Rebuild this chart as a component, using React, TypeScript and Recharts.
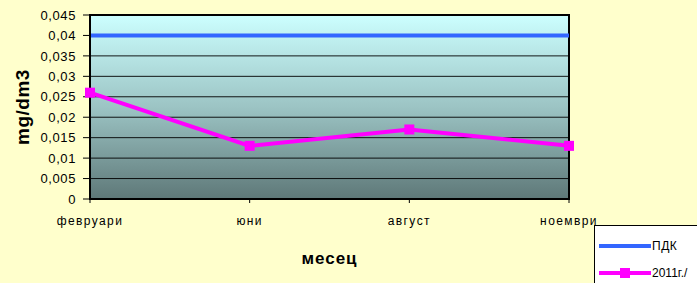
import {
  LineChart,
  Line,
  XAxis,
  YAxis,
  CartesianGrid,
  Legend,
  ReferenceArea,
} from 'recharts';

// months on the x axis
const months = ['февруари', 'юни', 'август', 'ноември'];
// ПДК limit line
const pdkValues = [0.04, 0.04, 0.04, 0.04];
// measured concentration 2011
const values2011 = [0.026, 0.013, 0.017, 0.013];
const yTicks = [0, 0.005, 0.01, 0.015, 0.02, 0.025, 0.03, 0.035, 0.04, 0.045];

const chartData = months.map((m, i) => ({
  month: m,
  pdk: pdkValues[i],
  y2011: values2011[i],
}));

const FONT = '"Liberation Sans", Arial, sans-serif';

const fmtTick = (v: number) => String(v).replace('.', ',');

const YLabel = ({ viewBox }: any) => {
  const cx = 22;
  const cy = viewBox.y + viewBox.height / 2;
  return (
    <text
      x={cx}
      y={cy}
      transform={`rotate(-90, ${cx}, ${cy})`}
      textAnchor="middle"
      dominantBaseline="central"
      fontFamily={FONT}
      fontWeight="bold"
      fontSize={19}
      letterSpacing={0.5}
      fill="#000"
    >
      mg/dm3
    </text>
  );
};

const XLabel = ({ viewBox }: any) => (
  <text
    x={viewBox.x + viewBox.width / 2}
    y={264}
    textAnchor="middle"
    fontFamily={FONT}
    fontWeight="bold"
    fontSize={17}
    letterSpacing={1}
    fill="#000"
  >
    месец
  </text>
);

const LegendBox = () => (
  <div
    style={{
      position: 'absolute',
      left: 594,
      top: 225,
      width: 140,
      height: 80,
      background: '#fff',
      border: '1px solid #000',
    }}
  >
    <svg width={140} height={80} style={{ position: 'absolute', left: 0, top: 0 }}>
      <line x1={4} x2={56} y1={20} y2={20} stroke="#3366FF" strokeWidth={4} />
      <text x={57} y={24} fontFamily={FONT} fontSize={12} letterSpacing={0.5}>ПДК</text>
      <line x1={4} x2={56} y1={47} y2={47} stroke="#FF00FF" strokeWidth={4} />
      <rect x={25} y={42} width={10} height={10} fill="#FF00FF" />
      <text x={57} y={51} fontFamily={FONT} fontSize={12}>2011г./</text>
    </svg>
  </div>
);

export default function App() {
  return (
    <div
      style={{
        position: 'absolute',
        left: 0,
        top: 0,
        width: 697,
        height: 283,
        overflow: 'hidden',
        background: '#FFFFCC',
      }}
    >
      <LineChart
        width={697}
        height={283}
        data={chartData}
        margin={{ top: 15, right: 128, bottom: 0, left: 0 }}
      >
        <defs>
          <linearGradient id="plotBg" x1="0" y1="0" x2="0" y2="1">
            <stop offset="0%" stopColor="#CCFFFF" />
            <stop offset="50%" stopColor="#9CC4C4" />
            <stop offset="100%" stopColor="#5E7878" />
          </linearGradient>
        </defs>
        <CartesianGrid
          vertical={false}
          stroke="#000"
          strokeOpacity={0.9}
          fill="url(#plotBg)"
          fillOpacity={1}
        />
        <XAxis
          dataKey="month"
          height={84}
          tickSize={4}
          tickMargin={13}
          axisLine={{ stroke: '#000', strokeWidth: 2 }}
          tickLine={{ stroke: '#000' }}
          tick={{ fill: '#000', fontSize: 12, fontFamily: FONT, letterSpacing: 1.4 }}
          interval={0}
          label={<XLabel />}
        />
        <YAxis
          width={90}
          domain={[0, 0.045]}
          ticks={yTicks}
          tickFormatter={fmtTick}
          tickSize={7}
          tickMargin={7}
          axisLine={{ stroke: '#000', strokeWidth: 2 }}
          tickLine={{ stroke: '#000' }}
          tick={{ fill: '#000', fontSize: 13, fontFamily: FONT, letterSpacing: 0.6 }}
          interval={0}
          label={<YLabel />}
        />
        <ReferenceArea
          x1="февруари"
          x2="ноември"
          y1={0}
          y2={0.045}
          fill="none"
          stroke="#000"
          strokeWidth={2}
        />
        <Line
          dataKey="pdk"
          name="ПДК"
          stroke="#3366FF"
          strokeWidth={4}
          dot={false}
          isAnimationActive={false}
        />
        <Line
          dataKey="y2011"
          name="2011г."
          stroke="#FF00FF"
          strokeWidth={4}
          dot={(p: any) => (
            <rect
              key={p.index}
              x={p.cx - 5}
              y={p.cy - 5}
              width={10}
              height={10}
              fill="#FF00FF"
            />
          )}
          isAnimationActive={false}
        />
        <Legend content={() => null} />
      </LineChart>
      <LegendBox />
    </div>
  );
}
